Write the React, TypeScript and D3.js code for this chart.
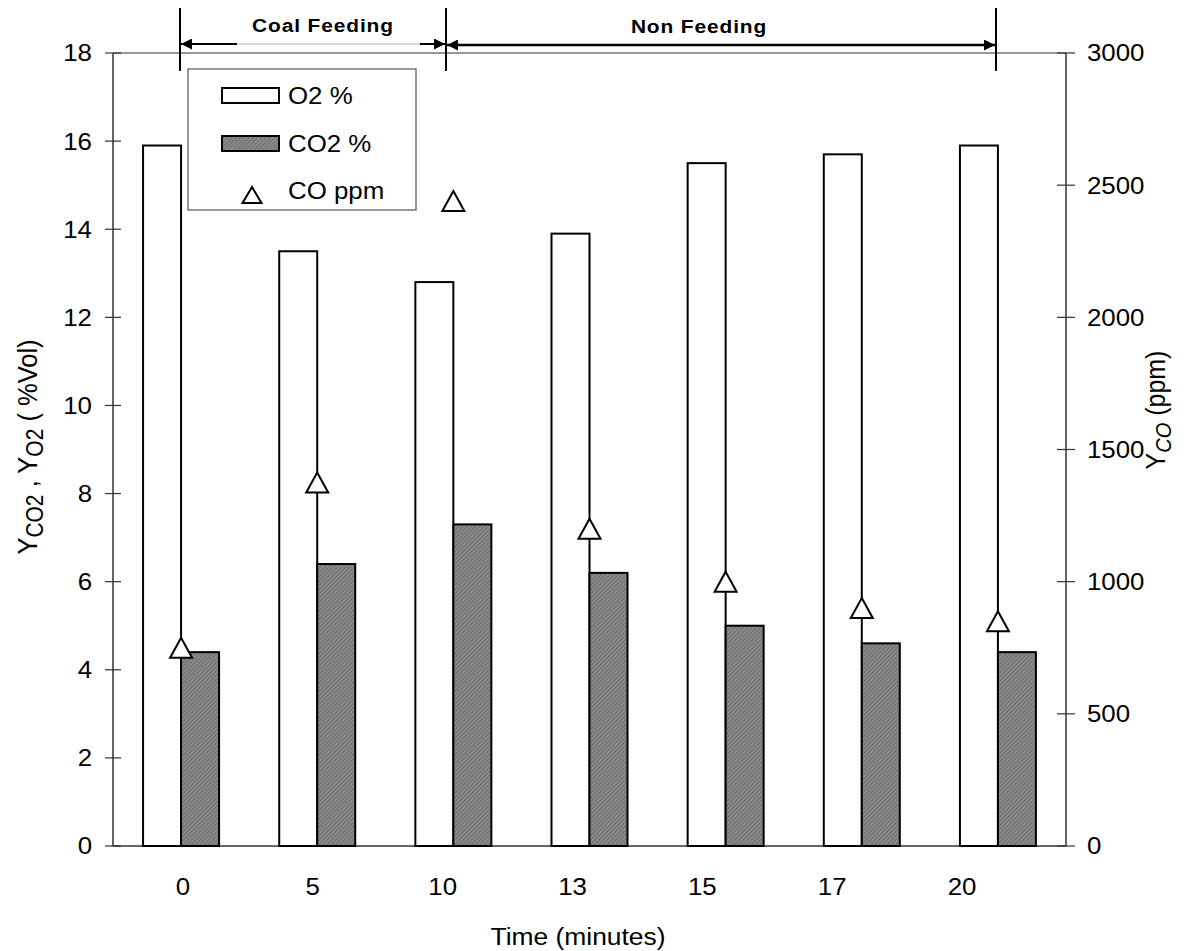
import React from "react";
import * as d3 from "d3";

const categories = ["0", "5", "10", "13", "15", "17", "20"];
const o2Values = [15.9, 13.5, 12.8, 13.9, 15.5, 15.7, 15.9];
const co2Values = [4.4, 6.4, 7.3, 6.2, 5.0, 4.6, 4.4];
const coValues = [750, 1375, 2440, 1200, 1000, 900, 850];
const leftTicks = [0, 2, 4, 6, 8, 10, 12, 14, 16, 18];
const rightTicks = [0, 500, 1000, 1500, 2000, 2500, 3000];

const W = 1195;
const H = 951;
const X0 = 113, X1 = 1066, Y0 = 846, Y1 = 53;
const FONT = "'Liberation Sans', Arial, sans-serif";
const SX = 1.1;

function Txt(props: { x: number; y: number; anchor?: string; size?: number; weight?: string; ls?: number; children: React.ReactNode }) {
  const { x, y, anchor = "start", size = 23.5, weight = "normal", ls = 0, children } = props;
  return (
    <text transform={`translate(${x},${y}) scale(${SX},1)`} dy="0.36em" textAnchor={anchor} fontFamily={FONT} fontSize={size} fontWeight={weight} letterSpacing={ls}>
      {children}
    </text>
  );
}

const triPath = (w: number, h: number) => `M0,${-h / 2} L${w / 2},${h / 2} L${-w / 2},${h / 2} Z`;

export default function App() {
  const x = d3.scaleBand().domain(categories).range([X0, X1]).padding(0);
  const xLab = d3.scaleBand().domain(categories).range([118, 1027]).padding(0);
  const yL = d3.scaleLinear().domain([0, 18]).range([Y0, Y1]);
  const yR = d3.scaleLinear().domain([0, 3000]).range([Y0, Y1]);
  const bw = 38;

  return (
    <svg width={W} height={H} style={{ position: "absolute", left: 0, top: 0, background: "#fff" }}>
      <defs>
        <pattern id="hatch" width="3" height="3" patternUnits="userSpaceOnUse" patternTransform="rotate(45)">
          <rect width="3" height="3" fill="#8a8a8a" />
          <line x1="0" y1="0" x2="0" y2="3" stroke="#5a5a5a" strokeWidth="1.2" />
        </pattern>
        <marker id="ah" viewBox="0 0 10 10" refX="10" refY="5" markerWidth="23" markerHeight="11" markerUnits="userSpaceOnUse" orient="auto-start-reverse">
          <path d="M0,0 L10,5 L0,10 Z" fill="#000" />
        </marker>
      </defs>
      <rect x={0} y={0} width={W} height={H} fill="#fff" />

      {/* frame */}
      <line x1={X0} x2={X1} y1={Y1} y2={Y1} stroke="#999" strokeWidth={2} />
      <line x1={X0} x2={X1} y1={Y0} y2={Y0} stroke="#333" strokeWidth={1.5} />
      <line x1={X0} x2={X0} y1={Y0} y2={Y1} stroke="#333" strokeWidth={1.5} />
      <line x1={X1} x2={X1} y1={Y0} y2={Y1} stroke="#333" strokeWidth={1.5} />

      {leftTicks.map((t) => (
        <g key={"l" + t}>
          <line x1={X0 - 8} x2={X0 + 8} y1={yL(t)} y2={yL(t)} stroke="#333" strokeWidth={1.2} />
          <Txt x={92} y={yL(t)} anchor="end">{t}</Txt>
        </g>
      ))}
      {rightTicks.map((t) => (
        <g key={"r" + t}>
          <line x1={X1 - 9} x2={X1 + 9} y1={yR(t)} y2={yR(t)} stroke="#333" strokeWidth={1.2} />
          <Txt x={1087} y={yR(t)}>{t}</Txt>
        </g>
      ))}

      {categories.map((c, i) => {
        const cx = (x(c) as number) + x.bandwidth() / 2;
        return (
          <g key={"b" + c}>
            <rect x={cx - bw} y={yL(o2Values[i])} width={bw} height={Y0 - yL(o2Values[i])} fill="#fff" stroke="#000" strokeWidth={2} />
            <rect x={cx} y={yL(co2Values[i])} width={bw} height={Y0 - yL(co2Values[i])} fill="url(#hatch)" stroke="#000" strokeWidth={2} />
          </g>
        );
      })}

      {categories.map((c, i) => {
        const cx = (x(c) as number) + x.bandwidth() / 2;
        return (
          <path key={"t" + c} d={triPath(22, 20)} transform={`translate(${cx},${yR(coValues[i])})`} fill="#fff" stroke="#000" strokeWidth={2} />
        );
      })}

      {categories.map((c) => (
        <Txt key={"x" + c} x={(xLab(c) as number) + xLab.bandwidth() / 2} y={887} anchor="middle">{c}</Txt>
      ))}
      <Txt x={578} y={936} anchor="middle" size={24}>Time (minutes)</Txt>

      {/* left axis title */}
      <text transform={`translate(37,447) scale(${SX},1) rotate(-90)`} textAnchor="middle" fontFamily={FONT} fontSize={25.5}>
        <tspan>Y</tspan><tspan fontSize={21} dy="5">CO2</tspan><tspan dy="-5"> , Y</tspan><tspan fontSize={21} dy="5">O2</tspan><tspan dy="-5"> ( %Vol)</tspan>
      </text>
      {/* right axis title */}
      <text transform={`translate(1165,410) scale(${SX},1) rotate(-90)`} textAnchor="middle" fontFamily={FONT} fontSize={25}>
        <tspan>Y</tspan><tspan fontSize={20} fontStyle="italic" dy="5">CO</tspan><tspan dy="-5"> (ppm)</tspan>
      </text>

      {/* legend */}
      <rect x={188} y={69} width={228} height={141} fill="#fff" stroke="#555" strokeWidth={1.2} />
      <rect x={222} y={88} width={57} height={15} fill="#fff" stroke="#000" strokeWidth={2} />
      <Txt x={288} y={96}>O2 %</Txt>
      <rect x={222} y={136} width={57} height={15} fill="url(#hatch)" stroke="#000" strokeWidth={2} />
      <Txt x={288} y={144}>CO2 %</Txt>
      <path d={triPath(19, 16)} transform="translate(252,195)" fill="#fff" stroke="#000" strokeWidth={2} />
      <Txt x={288} y={191}>CO ppm</Txt>

      {/* phase annotations */}
      <line x1={180} x2={180} y1={8} y2={71} stroke="#000" strokeWidth={2} />
      <line x1={446} x2={446} y1={8} y2={71} stroke="#000" strokeWidth={2} />
      <line x1={996} x2={996} y1={8} y2={71} stroke="#000" strokeWidth={2} />
      <line x1={181} x2={445} y1={44} y2={44} stroke="#ccc" strokeWidth={1.5} />
      <line x1={181} x2={237} y1={44} y2={44} stroke="#000" strokeWidth={2} markerStart="url(#ah)" />
      <line x1={420} x2={445} y1={44} y2={44} stroke="#000" strokeWidth={2} markerEnd="url(#ah)" />
      <line x1={447} x2={995} y1={45} y2={45} stroke="#000" strokeWidth={2.5} markerStart="url(#ah)" markerEnd="url(#ah)" />
      <Txt x={323} y={25} anchor="middle" size={19} weight="bold" ls={0.8}>Coal Feeding</Txt>
      <Txt x={699} y={26} anchor="middle" size={19} weight="bold" ls={0.8}>Non Feeding</Txt>
    </svg>
  );
}
